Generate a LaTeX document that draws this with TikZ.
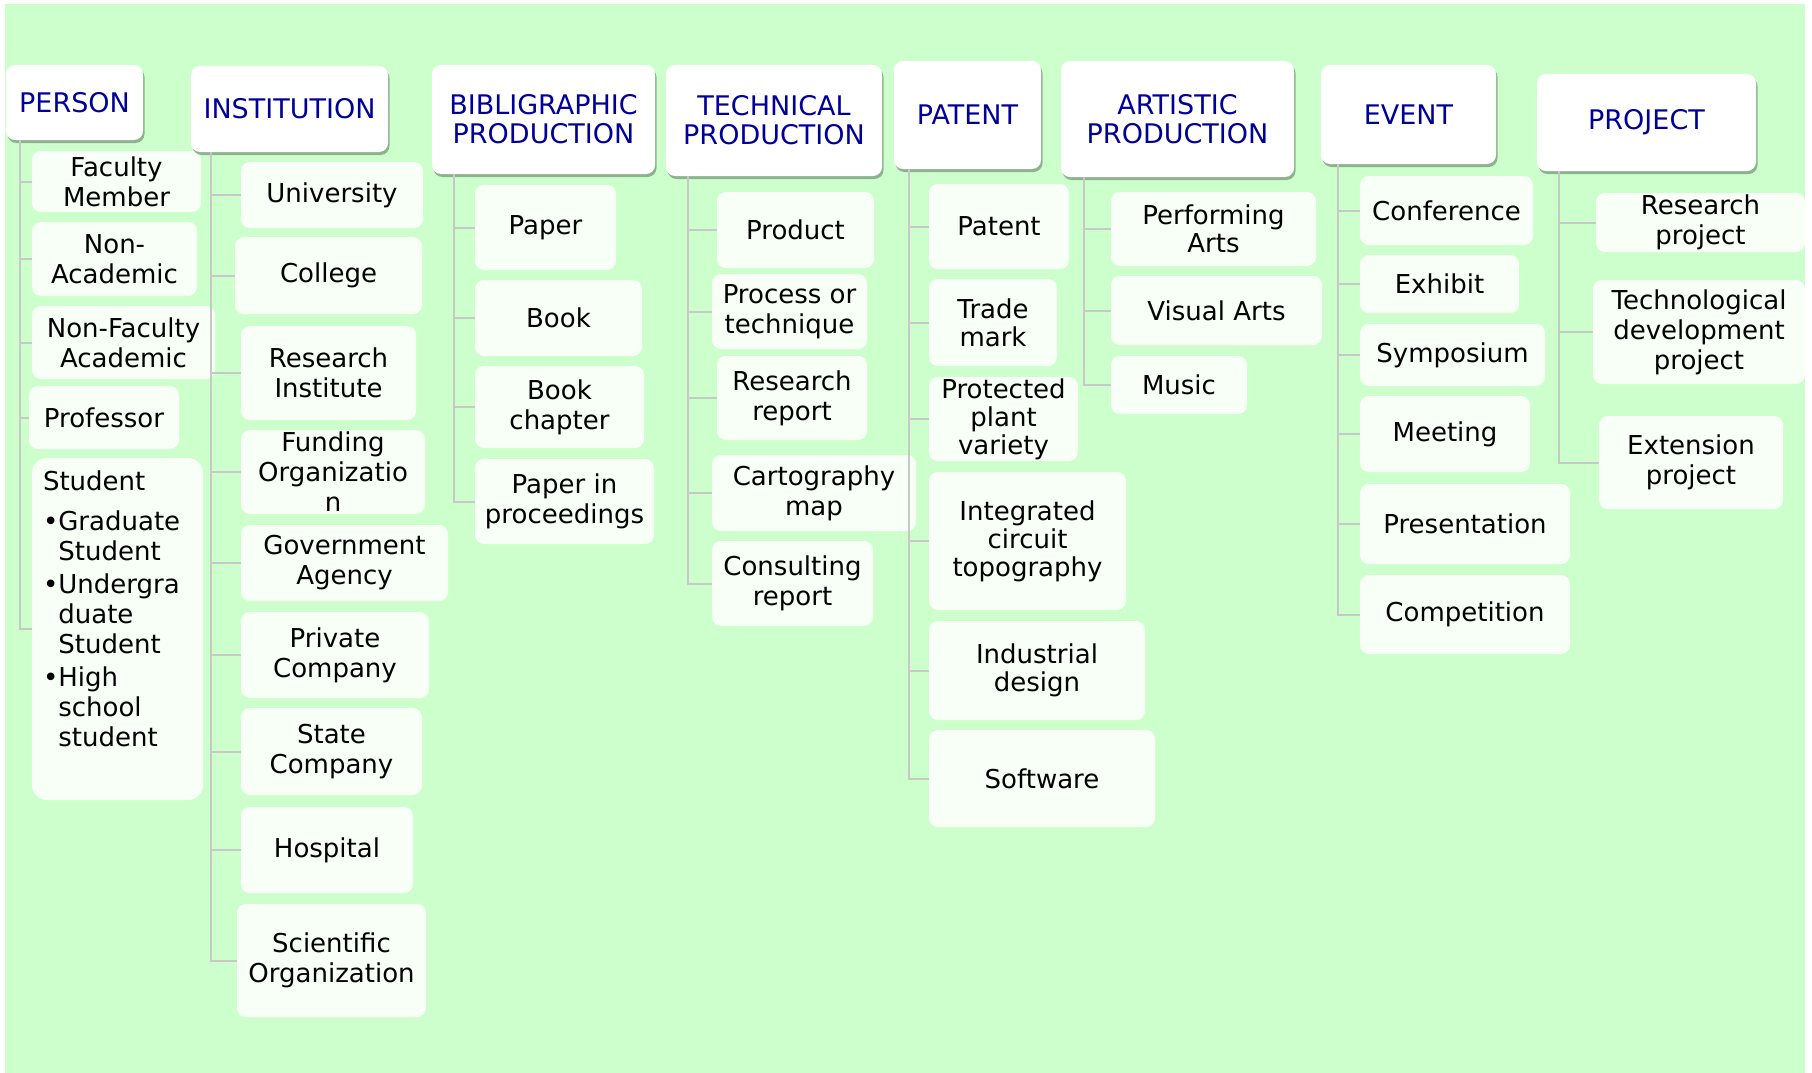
\documentclass[tikz,border=0pt]{standalone}
\usepackage{fontspec}
\setmainfont{DejaVu Sans}
\usetikzlibrary{shadows}
\definecolor{bggreen}{RGB}{204,255,204}
\definecolor{headblue}{RGB}{0,0,153}
\definecolor{itemwhite}{RGB}{247,255,247}
\definecolor{linegray}{RGB}{200,200,200}
\tikzset{
	head node/.style={rectangle, rounded corners=9pt, fill=white, text=headblue, align=center, anchor=north west, inner sep=0pt, outer sep=0pt, font=\fontsize{27}{29}\selectfont, drop shadow={shadow xshift=1.5pt, shadow yshift=-3pt, fill=black, opacity=0.3}},
	item node/.style={rectangle, rounded corners=9pt, fill=itemwhite, align=center, anchor=north west, inner sep=0pt, outer sep=0pt, font=\fontsize{26}{30}\selectfont},
	tight node/.style={item node, font=\fontsize{26}{28}\selectfont},
	list node/.style={inner sep=0pt, outer sep=0pt, anchor=north west, font=\fontsize{26}{30}\selectfont},
	box size/.style 2 args={minimum width=#1pt, minimum height=#2pt},
	edge line/.style={draw=linegray, line width=2pt},
}
\begin{document}
\begin{tikzpicture}[x=1pt, y=-1pt]
  \useasboundingbox (0,0) rectangle (1812,1073);
  \fill[bggreen] (5,4) rectangle (1805,1073);

  % PERSON
  \node[head node, box size={137}{75}] (person) at (6,65) {PERSON};
  \node[item node, box size={169}{61}] (fac) at (32,151) {Faculty\\Member};
  \node[item node, box size={165}{74}] (nonac) at (32,222) {Non-\\Academic};
  \node[item node, box size={183}{73}] (nonfac) at (32,306) {Non-Faculty\\Academic};
  \node[item node, box size={150}{63}] (prof) at (29,386) {Professor};
  \node[item node, box size={171}{342}, rounded corners=15pt] (stud) at (32,458) {};
  \node[list node] (studlist) at ([xshift=11pt, yshift=-11pt]stud.north west) {%
    \begin{tabular}{@{}l@{}l@{}}
      \multicolumn{2}{@{}l@{}}{Student}\\[10pt]
      •&Graduate\\
       &Student\\[3pt]
      •&Undergra\\
       &duate\\
       &Student\\[3pt]
      •&High\\
       &school\\
       &student
    \end{tabular}};

  % INSTITUTION
  \node[head node, box size={197}{86}] (inst) at (191,66) {INSTITUTION};
  \node[item node, box size={182}{66}] (univ) at (241,162) {University};
  \node[item node, box size={187}{77}] (coll) at (235,237) {College};
  \node[item node, box size={175}{94}] (resinst) at (241,326) {Research\\Institute};
  \node[item node, box size={184}{84}] (fund) at (241,430) {Funding\\Organizatio\\n};
  \node[item node, box size={207}{76}] (gov) at (241,525) {Government\\Agency};
  \node[item node, box size={188}{86}] (priv) at (241,612) {Private\\Company};
  \node[item node, box size={181}{87}] (state) at (241,708) {State\\Company};
  \node[item node, box size={172}{86}] (hosp) at (241,807) {Hospital};
  \node[item node, box size={189}{113}] (sci) at (237,904) {Scientific\\Organization};

  % BIBLIGRAPHIC PRODUCTION
  \node[head node, box size={223}{109}] (bib) at (432,65) {BIBLIGRAPHIC\\PRODUCTION};
  \node[item node, box size={141}{85}] (paper) at (475,185) {Paper};
  \node[item node, box size={167}{76}] (book) at (475,280) {Book};
  \node[item node, box size={169}{82}] (bookch) at (475,366) {Book\\chapter};
  \node[item node, box size={179}{85}] (procs) at (475,459) {Paper in\\proceedings};

  % TECHNICAL PRODUCTION
  \node[head node, box size={216}{111}] (tech) at (666,65) {TECHNICAL\\PRODUCTION};
  \node[item node, box size={157}{76}] (product) at (717,192) {Product};
  \node[item node, box size={155}{75}] (process) at (712,274) {Process or\\technique};
  \node[item node, box size={150}{84}] (report) at (717,356) {Research\\report};
  \node[item node, box size={204}{76}] (carto) at (712,455) {Cartography\\map};
  \node[item node, box size={161}{85}] (consult) at (712,541) {Consulting\\report};

  % PATENT
  \node[head node, box size={147}{108}] (patent) at (894,61) {PATENT};
  \node[tight node, box size={140}{85}] (pat) at (929,184) {Patent};
  \node[tight node, box size={128}{87}] (trade) at (929,279) {Trade\\mark};
  \node[tight node, box size={149}{84}] (plant) at (929,377) {Protected\\plant\\variety};
  \node[tight node, box size={197}{138}] (circuit) at (929,472) {Integrated\\circuit\\topography};
  \node[tight node, box size={216}{99}] (design) at (929,621) {Industrial\\design};
  \node[tight node, box size={226}{97}] (soft) at (929,730) {Software};

  % ARTISTIC PRODUCTION
  \node[head node, box size={233}{116}] (art) at (1061,61) {ARTISTIC\\PRODUCTION};
  \node[tight node, box size={205}{74}] (perf) at (1111,192) {Performing\\Arts};
  \node[tight node, box size={211}{69}] (visual) at (1111,276) {Visual Arts};
  \node[tight node, box size={136}{58}] (music) at (1111,356) {Music};

  % EVENT
  \node[head node, box size={175}{99}] (event) at (1321,65) {EVENT};
  \node[item node, box size={173}{69}] (conf) at (1360,176) {Conference};
  \node[item node, box size={159}{58}] (exhib) at (1360,255) {Exhibit};
  \node[item node, box size={185}{62}] (symp) at (1360,324) {Symposium};
  \node[item node, box size={170}{76}] (meet) at (1360,396) {Meeting};
  \node[item node, box size={210}{80}] (pres) at (1360,484) {Presentation};
  \node[item node, box size={210}{79}] (comp) at (1360,575) {Competition};

  % PROJECT
  \node[head node, box size={219}{97}] (project) at (1537,74) {PROJECT};
  \node[item node, box size={209}{59}] (resproj) at (1596,193) {Research\\project};
  \node[item node, box size={212}{104}] (techdev) at (1593,280) {Technological\\development\\project};
  \node[item node, box size={184}{93}] (ext) at (1599,416) {Extension\\project};

  % connectors
  \foreach \c in {fac,nonac,nonfac,prof,stud}
    \draw[edge line] ([xshift=14pt]person.south west) |- (\c.west);
  \foreach \c in {univ,coll,resinst,fund,gov,priv,state,hosp,sci}
    \draw[edge line] ([xshift=20pt]inst.south west) |- (\c.west);
  \foreach \c in {paper,book,bookch,procs}
    \draw[edge line] ([xshift=22pt]bib.south west) |- (\c.west);
  \foreach \c in {product,process,report,carto,consult}
    \draw[edge line] ([xshift=22pt]tech.south west) |- (\c.west);
  \foreach \c in {pat,trade,plant,circuit,design,soft}
    \draw[edge line] ([xshift=15pt]patent.south west) |- (\c.west);
  \foreach \c in {perf,visual,music}
    \draw[edge line] ([xshift=23pt]art.south west) |- (\c.west);
  \foreach \c in {conf,exhib,symp,meet,pres,comp}
    \draw[edge line] ([xshift=17pt]event.south west) |- (\c.west);
  \foreach \c in {resproj,techdev,ext}
    \draw[edge line] ([xshift=22pt]project.south west) |- (\c.west);
\end{tikzpicture}
\end{document}
